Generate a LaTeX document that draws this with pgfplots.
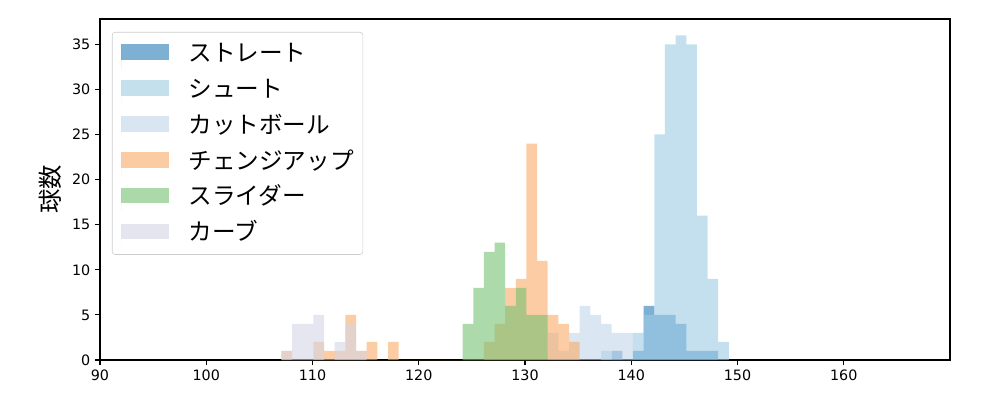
\documentclass[border=0pt]{standalone}
\usepackage{pgfplots}
\usepackage{pgfplotstable}
\pgfplotsset{compat=1.18}
\usepackage{fontspec}
\setmainfont{DejaVu Sans}
\newfontfamily\cjk{Noto Sans CJK JP}

\definecolor{cStraight}{RGB}{40,124,184}
\definecolor{cShoot}{RGB}{157,203,227}
\definecolor{cCut}{RGB}{193,213,233}
\definecolor{cChange}{RGB}{250,170,103}
\definecolor{cSlider}{RGB}{117,193,113}
\definecolor{cCurve}{RGB}{212,213,230}

\pgfplotstableread{
x y
138.16 1
139.16 0
140.16 1
141.17 6
142.17 5
143.17 5
144.17 4
145.18 1
146.18 1
147.18 1
148.18 0
}\straight
\pgfplotstableread{
x y
137.16 1
138.16 0
139.16 0
140.16 3
141.17 5
142.17 25
143.17 35
144.17 36
145.18 35
146.18 16
147.18 9
148.18 2
149.19 0
}\shoot
\pgfplotstableread{
x y
132.14 3
133.15 1
134.15 3
135.15 6
136.15 5
137.16 4
138.16 3
139.16 3
140.16 0
}\cutball
\pgfplotstableread{
x y
107.08 1
108.08 0
109.09 0
110.09 2
111.09 1
112.09 1
113.10 5
114.10 1
115.10 2
116.10 0
117.11 2
118.11 0
126.13 2
127.13 4
128.13 8
129.14 9
130.14 24
131.14 11
132.14 5
133.15 4
134.15 2
135.15 0
}\changeup
\pgfplotstableread{
x y
124.12 4
125.13 8
126.13 12
127.13 13
128.13 6
129.14 8
130.14 5
131.14 5
132.14 0
}\slider
\pgfplotstableread{
x y
107.08 1
108.08 4
109.09 4
110.09 5
111.09 0
112.09 2
113.10 4
114.10 1
115.10 0
}\curve

\begin{document}
\begin{tikzpicture}
\begin{axis}[
  width=612pt, height=245.5pt, scale only axis,
  xmin=90, xmax=170, ymin=0, ymax=37.8,
  xtick={90,100,...,160}, ytick={0,5,...,35},
  xtick pos=left, ytick pos=left,
  tick align=outside, major tick length=3.5pt,
  tick style={line width=0.8pt, black},
  axis line style={line width=0.8pt},
  /pgf/number format/assume math mode=true,
  ticklabel style={font=\fontsize{10.3}{12}\selectfont},
  every axis y label/.style={at={(axis description cs:-0.0588,0.5)}, rotate=90, anchor=center},
  ylabel={\cjk\fontsize{17.5}{20}\selectfont 球数},
  legend cell align=left,
  legend image code/.code={\fill[#1, sharp corners] (0pt,-5.65pt) rectangle (34pt,5.65pt);
    \path (0pt,-11.5pt) -- (0pt,5pt);},
  legend style={
    at={(0.0141,0.962)}, anchor=north west,
    font=\cjk\fontsize{17}{20}\selectfont,
    draw=black!20, rounded corners=2pt, fill=white, fill opacity=0.8, text opacity=1,
    inner xsep=6.5pt, inner ysep=5.1pt,
    row sep=5.0pt, column sep=14.4pt,
    nodes={inner sep=0pt, text height=16pt, text depth=2.6pt},
  },
]
\addplot[ybar interval, fill=cStraight, fill opacity=0.6, draw=none] table {\straight};
\addlegendentry{ストレート}
\addplot[ybar interval, fill=cShoot, fill opacity=0.6, draw=none] table {\shoot};
\addlegendentry{シュート}
\addplot[ybar interval, fill=cCut, fill opacity=0.6, draw=none] table {\cutball};
\addlegendentry{カットボール}
\addplot[ybar interval, fill=cChange, fill opacity=0.6, draw=none] table {\changeup};
\addlegendentry{チェンジアップ}
\addplot[ybar interval, fill=cSlider, fill opacity=0.6, draw=none] table {\slider};
\addlegendentry{スライダー}
\addplot[ybar interval, fill=cCurve, fill opacity=0.6, draw=none] table {\curve};
\addlegendentry{カーブ}
\end{axis}
\path ([xshift=-72pt,yshift=-28.8pt]current axis.south west) rectangle ([xshift=36pt,yshift=13.7pt]current axis.north east);
\end{tikzpicture}
\end{document}
